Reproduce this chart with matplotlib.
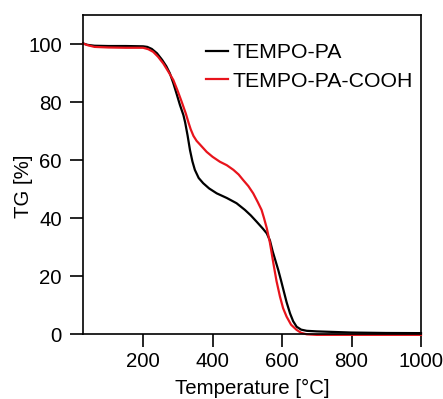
import matplotlib
matplotlib.use("Agg")
import matplotlib.pyplot as plt

plt.rcParams['font.family'] = ['Liberation Sans', 'DejaVu Sans']

# TGA curves: temperature [°C] vs. residual mass [%]
temp_pa = [27, 40, 60, 100, 150, 200, 212, 225, 240, 255, 267, 277, 287, 296, 306,
           316, 321, 328, 335, 342, 349, 360, 373, 390, 412, 441, 469, 493, 510,
           527, 545, 556, 565, 573, 581, 589, 597, 604, 613, 623, 632, 642, 655,
           671, 700, 750, 800, 900, 1000]
tg_pa = [100.2, 99.7, 99.4, 99.3, 99.3, 99.2, 99.0, 98.3, 96.8, 94.5, 92.3, 89.9,
         86.5, 83.0, 79.0, 75.5, 73.0, 68.5, 63.4, 59.5, 56.6, 53.8, 52.0, 50.2,
         48.5, 46.9, 45.1, 42.8, 40.9, 38.7, 36.3, 34.7, 32.3, 28.5, 25.3, 22.1,
         18.5, 15.2, 11.0, 7.1, 4.4, 2.5, 1.5, 1.1, 0.9, 0.7, 0.5, 0.35, 0.3]

temp_cooh = [27, 40, 60, 100, 150, 200, 215, 229, 243, 258, 272, 287, 299, 311, 323,
             331, 337, 345, 354, 364, 383, 400, 421, 441, 460, 475, 488, 503, 517,
             530, 541, 548, 556, 565, 570, 575, 584, 594, 603, 613, 626, 642, 655,
             671, 700, 800, 1000]
tg_cooh = [100.2, 99.6, 99.0, 98.8, 98.7, 98.7, 98.2, 97.3, 95.6, 93.3, 90.6, 87.6,
           84.0, 80.1, 76.0, 72.8, 70.6, 68.3, 66.6, 65.3, 62.8, 61.1, 59.4, 58.2,
           56.6, 55.0, 53.1, 51.0, 48.5, 45.5, 42.8, 40.0, 36.5, 31.5, 28.0, 24.4,
           18.3, 12.9, 8.9, 6.0, 3.2, 1.4, 0.4, -0.1, -0.3, -0.3, -0.3]

series_labels = ['TEMPO-PA', 'TEMPO-PA-COOH']
x_ticks = [200, 400, 600, 800, 1000]
y_ticks = [0, 20, 40, 60, 80, 100]

fig = plt.figure(figsize=(4.43, 3.99), dpi=100)
ax = fig.add_axes([83 / 443, 65 / 399, 338 / 443, 319 / 399])

ax.plot(temp_pa, tg_pa, color='black', lw=1.6, label=series_labels[0], clip_on=False)
ax.plot(temp_cooh, tg_cooh, color='#e8141c', lw=1.6, label=series_labels[1], clip_on=False)

ax.set_xlim(27, 1000)
ax.set_ylim(0, 110)
ax.set_xticks(x_ticks)
ax.set_yticks(y_ticks)

for s in ax.spines.values():
    s.set_linewidth(1.2)
ax.tick_params(direction='out', length=9.7, width=1.2, labelsize=14.7)
ax.tick_params(axis='x', pad=3.6)
ax.tick_params(axis='y', pad=5.5)

ax.set_xlabel('Temperature [°C]', fontsize=14.7, labelpad=5.5)
ax.set_ylabel('TG [%]', fontsize=14.7)
ax.yaxis.set_label_coords(-0.148, 0.464)

ax.legend(loc='upper left', bbox_to_anchor=(206 / 443, 1 - 43 / 399),
          bbox_transform=fig.transFigure, frameon=False, fontsize=15.3,
          handlelength=1.05, handletextpad=0.22, labelspacing=0.45,
          borderpad=0, borderaxespad=0)

fig.savefig('out.png', dpi=100)
